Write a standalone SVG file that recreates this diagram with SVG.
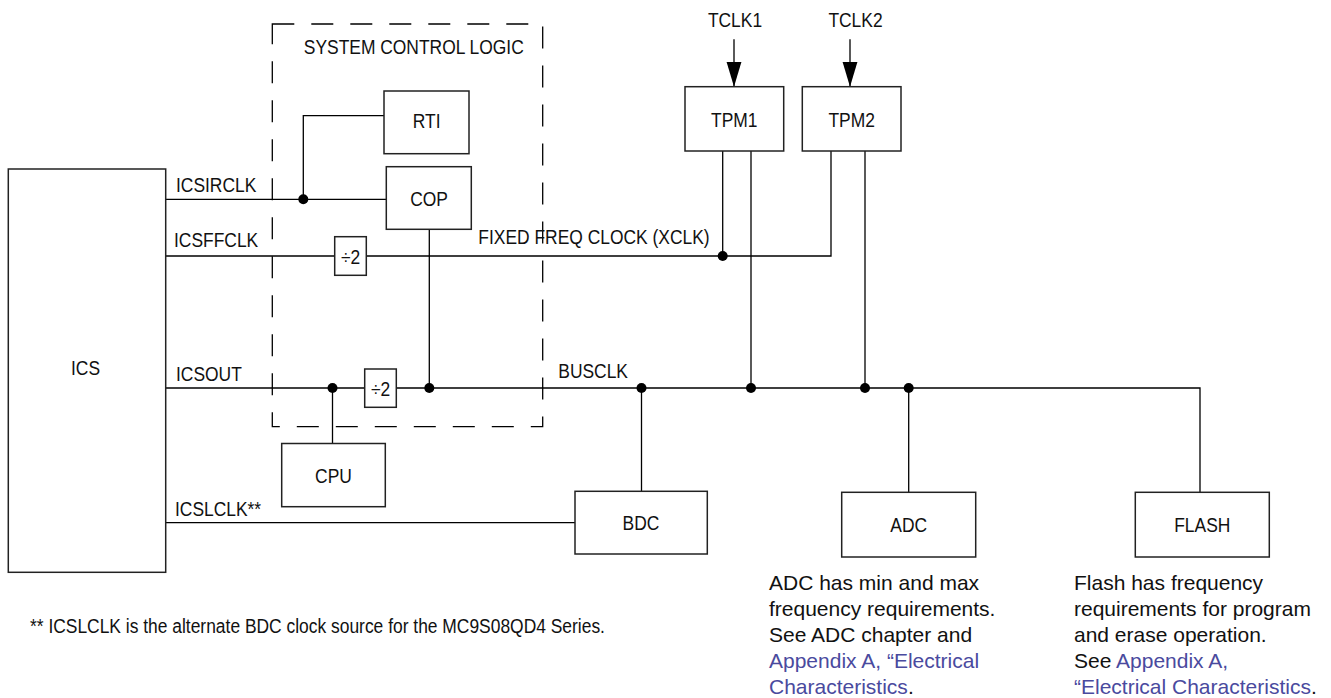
<svg xmlns="http://www.w3.org/2000/svg" width="1331" height="698" viewBox="0 0 1331 698">
<style>
  .box { fill: #fff; stroke: #222; stroke-width: 1.5; }
  .w { fill: none; stroke: #000; stroke-width: 1.3; }
  .dash { fill: none; stroke: #000; stroke-width: 1.3; stroke-dasharray: 22 17; }
  .dot { fill: #000; }
  .l { font-family: "Liberation Sans", Arial, sans-serif; font-size: 21px; fill: #111; }
  .m { text-anchor: middle; }
  .n { font-family: "Liberation Sans", Arial, sans-serif; font-size: 21px; fill: #111; }
  .lk { fill: #4a4a9e; }
</style>
<defs>
  <marker id="arr" markerUnits="userSpaceOnUse" markerWidth="25" markerHeight="16" refX="25" refY="7.5" orient="auto">
    <path d="M0,0 L25,7.5 L0,15 z" fill="#000"/>
  </marker>
</defs>

<g id="system-control-logic">
  <rect class="dash" x="272.3" y="24" width="270.4" height="402.7"/>
  <text class="l m" transform="matrix(.83 0 0 1 413.8 54.3)">SYSTEM CONTROL LOGIC</text>
</g>

<g id="connectors">
  <!-- ICSIRCLK -->
  <polyline class="w" points="165.7,199.3 386.3,199.3"/>
  <polyline class="w" points="303.3,199.3 303.3,115.7 384,115.7"/>
  <!-- ICSFFCLK / XCLK -->
  <polyline class="w" points="165.7,256 334.7,256"/>
  <polyline class="w" points="366.3,256 831,256 831,151"/>
  <polyline class="w" points="722.7,256 722.7,151"/>
  <!-- ICSOUT / BUSCLK -->
  <polyline class="w" points="165.7,388 364.7,388"/>
  <polyline class="w" points="396.3,388 1200,388 1200,492.3"/>
  <polyline class="w" points="332.5,388 332.5,443.5"/>
  <polyline class="w" points="429.3,229.3 429.3,388"/>
  <polyline class="w" points="641.5,388 641.5,491.3"/>
  <polyline class="w" points="751,151 751,388"/>
  <polyline class="w" points="865,151 865,388"/>
  <polyline class="w" points="908.7,388 908.7,492.3"/>
  <!-- ICSLCLK -->
  <polyline class="w" points="165.7,522.7 575,522.7"/>
  <!-- TCLK arrows -->
  <line class="w" x1="734" y1="39.3" x2="734" y2="86.7" marker-end="url(#arr)"/>
  <line class="w" x1="850" y1="39.3" x2="850" y2="86.7" marker-end="url(#arr)"/>
  <!-- junction dots -->
  <circle class="dot" cx="303.3" cy="199.3" r="5"/>
  <circle class="dot" cx="722.7" cy="256" r="5"/>
  <circle class="dot" cx="332.5" cy="388" r="5"/>
  <circle class="dot" cx="429.3" cy="388" r="5"/>
  <circle class="dot" cx="641.5" cy="388" r="5"/>
  <circle class="dot" cx="751" cy="388" r="5"/>
  <circle class="dot" cx="865" cy="388" r="5"/>
  <circle class="dot" cx="908.7" cy="388" r="5"/>
  <!-- connector labels -->
  <text class="l" transform="matrix(.83 0 0 1 176 192.3)">ICSIRCLK</text>
  <text class="l" transform="matrix(.83 0 0 1 174 246.7)">ICSFFCLK</text>
  <text class="l" transform="matrix(.83 0 0 1 176 380.7)">ICSOUT</text>
  <text class="l" transform="matrix(.83 0 0 1 175 515.7)">ICSLCLK**</text>
  <text class="l" transform="matrix(.83 0 0 1 478.3 244.3)">FIXED FREQ CLOCK (XCLK)</text>
  <text class="l" transform="matrix(.83 0 0 1 558.3 378.3)">BUSCLK</text>
  <text class="l m" transform="matrix(.83 0 0 1 735 26.7)">TCLK1</text>
  <text class="l m" transform="matrix(.83 0 0 1 855.5 26.7)">TCLK2</text>
</g>

<g id="ics">
  <rect class="box" x="8.3" y="169" width="157.4" height="403.3"/>
  <text class="l m" transform="matrix(.83 0 0 1 85.5 375)">ICS</text>
</g>
<g id="rti">
  <rect class="box" x="384" y="91" width="85" height="62.7"/>
  <text class="l m" transform="matrix(.83 0 0 1 426.7 128.3)">RTI</text>
</g>
<g id="cop">
  <rect class="box" x="386.3" y="166.7" width="85" height="62.6"/>
  <text class="l m" transform="matrix(.83 0 0 1 429 205.7)">COP</text>
</g>
<g id="div2-ff">
  <rect class="box" x="334.7" y="236.7" width="31.6" height="38.6"/>
  <text class="l m" transform="matrix(.83 0 0 1 350.5 263.5)">÷2</text>
</g>
<g id="div2-bus">
  <rect class="box" x="364.7" y="369" width="31.6" height="38.3"/>
  <text class="l m" transform="matrix(.83 0 0 1 380.5 396)">÷2</text>
</g>
<g id="cpu">
  <rect class="box" x="281.7" y="443.5" width="103.6" height="63.2"/>
  <text class="l m" transform="matrix(.83 0 0 1 333.5 482.7)">CPU</text>
</g>
<g id="bdc">
  <rect class="box" x="575" y="491.3" width="132.3" height="62.7"/>
  <text class="l m" transform="matrix(.83 0 0 1 641 530)">BDC</text>
</g>
<g id="tpm1">
  <rect class="box" x="685" y="86.7" width="98.7" height="64.3"/>
  <text class="l m" transform="matrix(.83 0 0 1 734.3 126.7)">TPM1</text>
</g>
<g id="tpm2">
  <rect class="box" x="802.3" y="86.7" width="98.7" height="64.3"/>
  <text class="l m" transform="matrix(.83 0 0 1 851.7 126.7)">TPM2</text>
</g>
<g id="adc">
  <rect class="box" x="841.7" y="492.3" width="134" height="64.7"/>
  <text class="l m" transform="matrix(.83 0 0 1 908.7 531.7)">ADC</text>
</g>
<g id="flash">
  <rect class="box" x="1135.3" y="492.3" width="134" height="64.7"/>
  <text class="l m" transform="matrix(.83 0 0 1 1202.3 531.7)">FLASH</text>
</g>

<g id="notes">
  <text class="l" transform="matrix(.83 0 0 1 30 633.3)">** ICSLCLK is the alternate BDC clock source for the MC9S08QD4 Series.</text>
  <text class="n" x="769" y="589.5">ADC has min and max</text>
  <text class="n" x="769" y="615.5">frequency requirements.</text>
  <text class="n" x="769" y="641.5">See ADC chapter and</text>
  <text class="n lk" x="769" y="667.5">Appendix A, “Electrical</text>
  <text class="n" x="769" y="693.5"><tspan class="lk">Characteristics</tspan>.</text>
  <text class="n" x="1074" y="589.5">Flash has frequency</text>
  <text class="n" x="1074" y="615.5">requirements for program</text>
  <text class="n" x="1074" y="641.5">and erase operation.</text>
  <text class="n" x="1074" y="667.5">See <tspan class="lk">Appendix A,</tspan></text>
  <text class="n" x="1074" y="693.5"><tspan class="lk">“Electrical Characteristics</tspan>.</text>
</g>
</svg>
